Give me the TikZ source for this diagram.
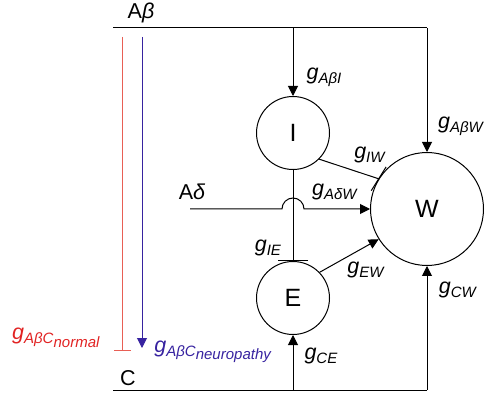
\documentclass[tikz,border=0pt]{standalone}
\usepackage{fontspec}
\setmainfont{Liberation Sans}
\usetikzlibrary{arrows.meta,positioning,calc}
\definecolor{normred}{RGB}{232,95,85}
\definecolor{normtxt}{RGB}{225,35,35}
\definecolor{neuroblue}{RGB}{55,35,160}
\newcommand{\gsyn}[1]{\textit{g}\raisebox{-0.35ex}{\fontsize{15}{17}\selectfont\textit{#1}}}
\newcommand{\gsynsub}[2]{\textit{g}\raisebox{-0.35ex}{\fontsize{15}{17}\selectfont\textit{#1}\raisebox{-0.45ex}{\textit{#2}}}}

\begin{document}
\begin{tikzpicture}[
  x=1pt,y=-1pt,line width=1pt,
  cell/.style={draw,circle,inner sep=0pt,font=\fontsize{25}{29}\selectfont},
  lbl/.style={font=\fontsize{21.5}{25}\selectfont,inner sep=0pt},
  arr/.style={-{Triangle[length=10pt,width=10pt]}},
  inh/.style={-{Bar[width=30pt,line width=1pt]}}
]
\useasboundingbox (0,0) rectangle (488,393);
% cells
\node[cell,minimum size=73pt] (I) at (293,133) {I};
\node[cell,minimum size=73pt] (E) at (293,298) {E};
\node[cell,minimum size=113pt] (W) at (427,209) {W};
% fibres
\coordinate (abL) at (113,28);
\coordinate (abR) at (427,28);
\coordinate (cL) at (113,390);
\coordinate (cR) at (427,390);
\coordinate (ad) at (190,209);
\coordinate (rTop) at (122,37);
\coordinate (rBot) at (122,351);
\coordinate (bTop) at (142,37);
\coordinate (bBot) at (142,348);
\draw (abL) -- (abR);
\draw[arr] (abR) -- (W.north);
\draw[arr] (I |- abL) -- (I.north);
\draw (cL) -- (cR);
\draw[arr] (cR) -- (W.south);
\draw[arr] (E |- cL) -- (E.south);
\draw[arr] (ad) -- ($(I |- ad)+(-11,0)$) arc[start angle=180,end angle=0,radius=11pt] -- (W.west);
% synapses between cells
\draw[inh] (I.south) -- (E.north);
\draw (I.-45) -- (W.148);
\draw ($(W.148)!14pt!90:(W.center)$) -- ($(W.148)!14pt!-90:(W.center)$);
\draw[arr] (E.44) -- (W.212);
% Abeta -> C
\draw[normred,-{Bar[width=17pt,line width=1pt]}] (rTop) -- (rBot);
\draw[neuroblue,arr] (bTop) -- (bBot);
% labels
\node[lbl] (abLab) at (141,13) {A\textit{β}};
\node[lbl] (adLab) at (192,192) {A\textit{δ}};
\node[lbl] (cLab) at (128,378) {C};
\node[lbl] (gabi) at (324,77) {\gsyn{AβI}};
\node[lbl] (gabw) at (461,126) {\gsyn{AβW}};
\node[lbl] (giw) at (370,155) {\gsyn{IW}};
\node[lbl] (gadw) at (335,192) {\gsyn{AδW}};
\node[lbl] (gie) at (268,248) {\gsyn{IE}};
\node[lbl] (gew) at (366,270) {\gsyn{EW}};
\node[lbl] (gcw) at (458,290) {\gsyn{CW}};
\node[lbl] (gce) at (321,356) {\gsyn{CE}};
\node[lbl,text=normtxt] (gnorm) at (56,338) {\gsynsub{AβC}{normal}};
\node[lbl,text=neuroblue] (gneuro) at (213,352) {\gsynsub{AβC}{neuropathy}};
\end{tikzpicture}
\end{document}
